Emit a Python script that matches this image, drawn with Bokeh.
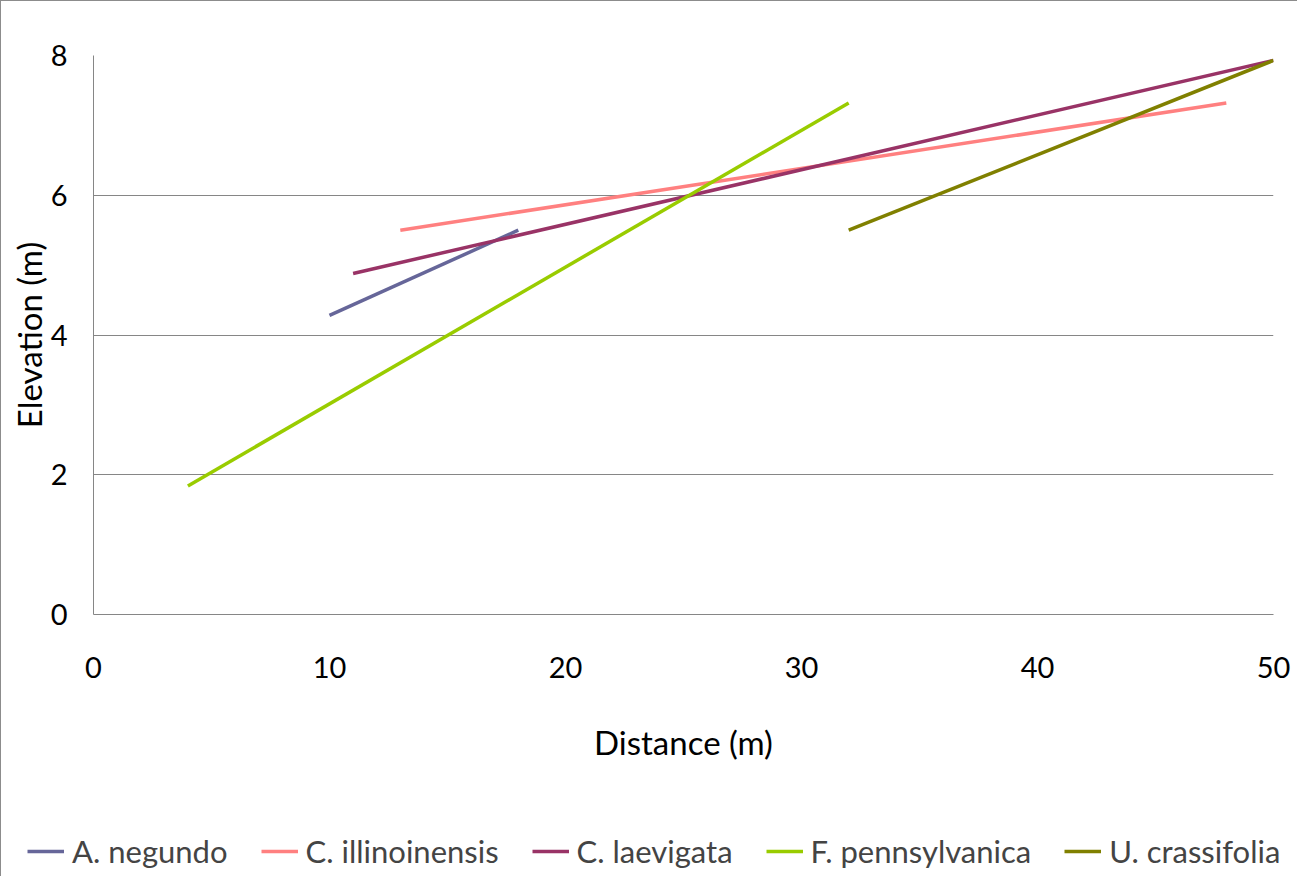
from bokeh.plotting import figure
from bokeh.models import Legend, LegendItem, FixedTicker, Range1d
from bokeh.embed import file_html
from bokeh.resources import INLINE

species = ["A. negundo", "C. illinoinensis", "C. laevigata", "F. pennsylvanica", "U. crassifolia"]
colors = ["#666699", "#FF8080", "#993366", "#99CC00", "#808000"]
dist_start = [10, 13, 11, 4, 32]
dist_end = [18, 48, 50, 32, 50]
elev_start = [4.28, 5.50, 4.88, 1.84, 5.50]
elev_end = [5.50, 7.32, 7.93, 7.32, 7.93]
x_ticks = [0, 10, 20, 30, 40, 50]
y_ticks = [0, 2, 4, 6, 8]

FONT = "Lato"
FS_TICK = "29px"
FS_AX = "33px"
FS_LEG = "31px"
BORDER = "1px solid #8c8c8c"

# ---- main chart ----
p = figure(width=1297, height=800, output_backend="svg", toolbar_location=None,
           x_range=Range1d(0, 50), y_range=Range1d(0, 8),
           min_border_left=92, min_border_top=54, min_border_right=25, min_border_bottom=187)
p.styles = {"border-left": BORDER, "border-top": BORDER}
p.outline_line_color = None
p.background_fill_color = "white"
p.border_fill_color = "white"

p.xgrid.grid_line_color = None
p.ygrid.grid_line_color = "#868686"
p.ygrid.grid_line_width = 1
p.ygrid.ticker = FixedTicker(ticks=y_ticks)

for ax, ticks in ((p.xaxis[0], x_ticks), (p.yaxis[0], y_ticks)):
    ax.ticker = FixedTicker(ticks=ticks)
    ax.axis_line_color = "#868686"
    ax.axis_line_width = 1
    ax.major_tick_line_color = None
    ax.minor_tick_line_color = None
    ax.major_tick_out = 0
    ax.major_tick_in = 0
    ax.major_label_text_font = FONT
    ax.major_label_text_font_size = FS_TICK
    ax.major_label_text_color = "black"
    ax.axis_label_text_font = FONT
    ax.axis_label_text_font_size = FS_AX
    ax.axis_label_text_font_style = "normal"
    ax.axis_label_text_color = "black"

p.xaxis.axis_label = "Distance (m)"
p.yaxis.axis_label = "Elevation (m)"
p.xaxis.major_label_standoff = 42
p.xaxis.axis_label_standoff = 41
p.yaxis.major_label_standoff = 26
p.yaxis.axis_label_standoff = -1

for i, name in enumerate(species):
    p.line([dist_start[i], dist_end[i]], [elev_start[i], elev_end[i]],
           line_color=colors[i], line_width=3.5)

# ---- legend strip (same series, drawn outside its visible range) ----
q = figure(width=1297, height=76, output_backend="svg", toolbar_location=None,
           x_range=Range1d(0, 50), y_range=Range1d(100, 110),
           x_axis_location=None, y_axis_location=None,
           min_border=0)
q.styles = {"border-left": BORDER}
q.outline_line_color = None
q.grid.visible = False

items = []
for i, name in enumerate(species):
    r = q.line([dist_start[i], dist_end[i]], [elev_start[i], elev_end[i]],
               line_color=colors[i], line_width=3.5)
    items.append(LegendItem(label=name, renderers=[r]))

legend = Legend(items=items, orientation="horizontal", location=(26, 6),
                label_text_font=FONT, label_text_font_size=FS_LEG,
                glyph_width=37, glyph_height=30, label_standoff=8, spacing=33,
                padding=0, margin=0, border_line_color=None,
                background_fill_alpha=0)
q.add_layout(legend, "center")

open("out.html", "w").write(file_html([p, q], INLINE))
